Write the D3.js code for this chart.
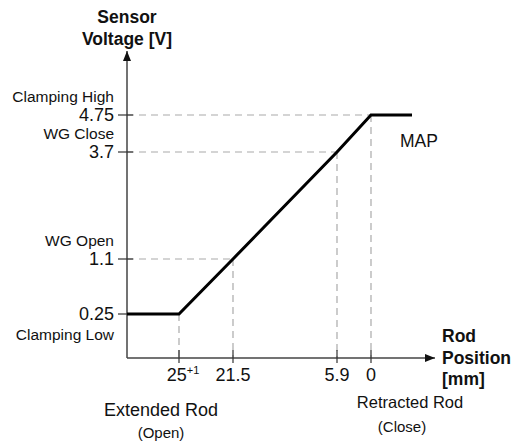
<!DOCTYPE html>
<html>
<head>
<meta charset="utf-8">
<script src="https://cdn.jsdelivr.net/npm/d3@7"></script>
<style>
  body { margin: 0; background: #fff; }
  text { font-family: "Liberation Sans", Arial, Helvetica, sans-serif; fill: #111; }
</style>
</head>
<body>
<div id="chart"></div>
<script>
// schematic: rod position (mm) vs sensor voltage (V)
var rodTicks = [25, 21.5, 5.9, 0],
    voltTicks = [0.25, 1.1, 3.7, 4.75],
    voltNames = ["Clamping Low", "WG Open", "WG Close", "Clamping High"],
    curve = [[25, 0.25], [21.5, 1.1], [5.9, 3.7], [0, 4.75]];

var width = 521, height = 445,
    ox = 127, oy = 358,
    svg = d3.select("#chart").append("svg")
        .attr("width", width).attr("height", height);

// non-linear (schematic) axes, piecewise scales
var x = d3.scaleLinear().domain(rodTicks).range([179, 233, 337, 371]),
    y = d3.scaleLinear().domain([0].concat(voltTicks)).range([oy, 314, 259, 152, 115]);

var defs = svg.append("defs");
defs.append("marker").attr("id", "arr")
    .attr("viewBox", "0 0 10 10").attr("refX", 10).attr("refY", 5)
    .attr("markerWidth", 10).attr("markerHeight", 10)
    .attr("markerUnits", "userSpaceOnUse").attr("orient", "auto")
  .append("path").attr("d", "M0,1 L10,5 L0,9 Z").attr("fill", "#111");

// dashed guides
var guides = svg.append("g").attr("stroke", "#aaa").attr("stroke-width", 1.2)
    .attr("stroke-dasharray", "7,5").attr("fill", "none");
guides.selectAll(".h").data(curve.filter(function (d) { return d[1] > 0.25; }))
  .enter().append("line")
    .attr("x1", ox).attr("x2", function (d) { return x(d[0]); })
    .attr("y1", function (d) { return y(d[1]); }).attr("y2", function (d) { return y(d[1]); });
guides.selectAll(".v").data(curve)
  .enter().append("line")
    .attr("x1", function (d) { return x(d[0]); }).attr("x2", function (d) { return x(d[0]); })
    .attr("y1", function (d) { return y(d[1]); }).attr("y2", oy);

// axes
svg.append("line").attr("x1", ox).attr("y1", oy).attr("x2", ox).attr("y2", 51)
    .attr("stroke", "#444").attr("stroke-width", 1.5).attr("marker-end", "url(#arr)");
svg.append("line").attr("x1", ox).attr("y1", oy).attr("x2", 435).attr("y2", oy)
    .attr("stroke", "#444").attr("stroke-width", 1.5).attr("marker-end", "url(#arr)");

svg.append("g").selectAll("line").data(voltTicks).enter().append("line")
    .attr("x1", ox - 9).attr("x2", ox + 6)
    .attr("y1", function (d) { return y(d); }).attr("y2", function (d) { return y(d); })
    .attr("stroke", "#333").attr("stroke-width", 1.2);
svg.append("g").selectAll("line").data(rodTicks).enter().append("line")
    .attr("x1", function (d) { return x(d); }).attr("x2", function (d) { return x(d); })
    .attr("y1", oy - 8).attr("y2", oy + 5)
    .attr("stroke", "#333").attr("stroke-width", 1.2);

// the curve with clamped ends
var pts = [[ox, y(curve[0][1])]]
    .concat(curve.map(function (d) { return [x(d[0]), y(d[1])]; }))
    .concat([[x(0) + 41, y(curve[3][1])]]);
svg.append("path").attr("d", d3.line()(pts))
    .attr("fill", "none").attr("stroke", "#000").attr("stroke-width", 3)
    .attr("stroke-linejoin", "miter");

// y labels
var yl = svg.append("g").attr("text-anchor", "end");
yl.selectAll(".num").data(voltTicks).enter().append("text")
    .attr("x", 114).attr("y", function (d) { return y(d) + 6; })
    .style("font-size", "18px").text(function (d) { return d; });
yl.selectAll(".nm").data(voltTicks).enter().append("text")
    .attr("x", 114).attr("y", function (d, i) { return i === 0 ? y(d) + 26 : y(d) - 13; })
    .style("font-size", "15.5px").text(function (d, i) { return voltNames[i]; });

// x labels
var xl = svg.append("g").attr("text-anchor", "middle").style("font-size", "18px");
xl.selectAll("text").data(rodTicks).enter().append("text")
    .attr("x", function (d) { return x(d) + (d === 25 ? 4 : 0); }).attr("y", 381)
    .each(function (d) {
      var t = d3.select(this);
      t.append("tspan").text(d);
      if (d === 25) t.append("tspan").attr("dy", -7).style("font-size", "11px").text("+1");
    });

svg.append("text").attr("x", 161).attr("y", 416).attr("text-anchor", "middle")
    .style("font-size", "18px").text("Extended Rod");
svg.append("text").attr("x", 161).attr("y", 438).attr("text-anchor", "middle")
    .style("font-size", "15px").text("(Open)");
svg.append("text").attr("x", 410).attr("y", 408).attr("text-anchor", "middle")
    .style("font-size", "16.5px").text("Retracted Rod");
svg.append("text").attr("x", 402).attr("y", 432).attr("text-anchor", "middle")
    .style("font-size", "15px").text("(Close)");

svg.append("text").attr("x", 400).attr("y", 147).style("font-size", "17.5px").text("MAP");

// axis titles
var yt = svg.append("g").attr("text-anchor", "middle")
    .style("font-size", "17.5px").style("font-weight", "bold");
yt.append("text").attr("x", ox).attr("y", 23).text("Sensor");
yt.append("text").attr("x", ox).attr("y", 45).text("Voltage [V]");

var xt = svg.append("g").style("font-size", "17.5px").style("font-weight", "bold");
["Rod", "Position", "[mm]"].forEach(function (s, i) {
  xt.append("text").attr("x", 442).attr("y", 342 + i * 21.5).text(s);
});
</script>
</body>
</html>
